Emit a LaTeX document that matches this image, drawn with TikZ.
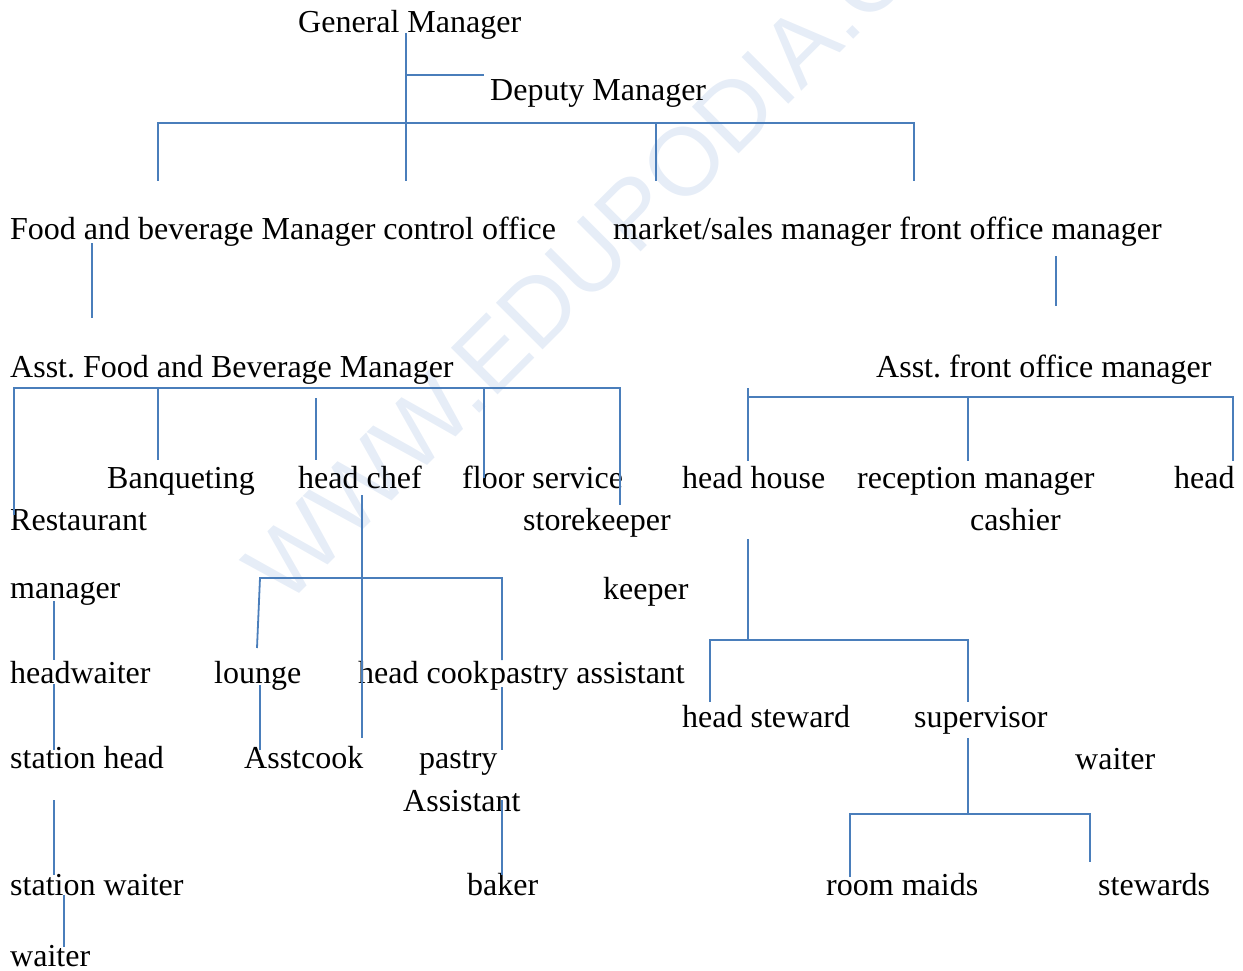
\documentclass[tikz,border=0pt]{standalone}
\usepackage{fontspec}
\setmainfont{Liberation Serif}
\newfontfamily\wmfont{Liberation Sans}
\definecolor{orgblue}{HTML}{4A7EBB}
\definecolor{wmark}{HTML}{E6EDF7}
\begin{document}
\begin{tikzpicture}[x=1pt, y=-1pt,
        jobname/.style={anchor=base west, inner sep=0pt, font=\fontsize{32}{38}\selectfont\frenchspacing},
        link/.style={draw=orgblue, line width=1.8pt}]
        \useasboundingbox (0,0) rectangle (1243,971);
        % watermark behind everything
        \node[anchor=base west, inner sep=0pt, rotate=45, text=wmark, font=\wmfont\fontsize{96}{96}\selectfont] (wm) at (285,608) {WWW.EDUPODIA.COM};

        %draw nodes by coordinates
        \node[jobname] (gm) at (298,33) {General Manager};
        \node[jobname] (dm) at (490,101) {Deputy Manager};
        \node[jobname] (fbm) at (10,240) {Food and beverage Manager control office};
        \node[jobname] (mkt) at (613,240) {market/sales manager front office manager};
        \node[jobname] (afbm) at (10,377) {Asst. Food and Beverage Manager};
        \node[jobname] (afom) at (876,377) {Asst. front office manager};
        \node[jobname] (banq) at (107,488) {Banqueting};
        \node[jobname] (chef) at (298,488) {head chef};
        \node[jobname] (floor) at (462,488) {floor service};
        \node[jobname] (hhouse) at (682,488) {head house};
        \node[jobname] (recep) at (857,488) {reception manager};
        \node[jobname] (headr) at (1174,488) {head};
        \node[jobname] (rest) at (10,530) {Restaurant};
        \node[jobname] (store) at (523,530) {storekeeper};
        \node[jobname] (cash) at (970,530) {cashier};
        \node[jobname] (mgr) at (10,598) {manager};
        \node[jobname] (keep) at (603,599) {keeper};
        \node[jobname] (hwaiter) at (10,683) {headwaiter};
        \node[jobname] (lounge) at (214,683) {lounge};
        \node[jobname] (hcook) at (358,683) {head cook};
        \node[jobname] (passt) at (490,683) {pastry assistant};
        \node[jobname] (hsteward) at (682,727) {head steward};
        \node[jobname] (superv) at (914,727) {supervisor};
        \node[jobname] (shead) at (10,768) {station head};
        \node[jobname] (acook) at (244,768) {Asstcook};
        \node[jobname] (pastry) at (419,768) {pastry};
        \node[jobname] (waiterr) at (1075,769) {waiter};
        \node[jobname] (asst) at (403,811) {Assistant};
        \node[jobname] (swaiter) at (10,895) {station waiter};
        \node[jobname] (baker) at (467,895) {baker};
        \node[jobname] (maids) at (826,895) {room maids};
        \node[jobname] (stewards) at (1098,895) {stewards};
        \node[jobname] (waiter) at (10,966) {waiter};

        % line ends
        \coordinate (gmA) at (406,33);
        \coordinate (gmB) at (406,181);
        \coordinate (dmA) at (406,75);
        \coordinate (dmB) at (484,75);
        \coordinate (topL) at (158,123);
        \coordinate (topR) at (914,123);
        \coordinate (top1) at (158,181);
        \coordinate (top3a) at (656,123);
        \coordinate (top3) at (656,181);
        \coordinate (top4) at (914,181);
        \coordinate (fbA) at (92,243);
        \coordinate (fbB) at (92,318);
        \coordinate (foA) at (1056,256);
        \coordinate (foB) at (1056,306);
        \coordinate (fbL) at (14,388);
        \coordinate (fbR) at (620,388);
        \coordinate (fb1) at (14,515);
        \coordinate (fb2a) at (158,388);
        \coordinate (fb2) at (158,460);
        \coordinate (fb3a) at (316,398);
        \coordinate (fb3) at (316,460);
        \coordinate (fb4a) at (484,388);
        \coordinate (fb4) at (484,478);
        \coordinate (fb5) at (620,505);
        \coordinate (chA) at (362,495);
        \coordinate (chB) at (362,738);
        \coordinate (chL) at (260,578);
        \coordinate (chR) at (502,578);
        \coordinate (ch1) at (257,648);
        \coordinate (ch3) at (502,660);
        \coordinate (loA) at (260,685);
        \coordinate (loB) at (260,750);
        \coordinate (paA) at (502,687);
        \coordinate (paB) at (502,750);
        \coordinate (psA) at (502,800);
        \coordinate (psB) at (502,875);
        \coordinate (rsA) at (54,601);
        \coordinate (rsB) at (54,660);
        \coordinate (hwA) at (54,684);
        \coordinate (hwB) at (54,750);
        \coordinate (shA) at (54,800);
        \coordinate (shB) at (54,875);
        \coordinate (swA) at (64,895);
        \coordinate (swB) at (64,947);
        \coordinate (foTop) at (748,388);
        \coordinate (foL) at (748,397);
        \coordinate (foR) at (1233,397);
        \coordinate (fo1) at (748,461);
        \coordinate (fo2a) at (968,397);
        \coordinate (fo2) at (968,461);
        \coordinate (fo3) at (1233,461);
        \coordinate (hhA) at (748,539);
        \coordinate (hhB) at (748,640);
        \coordinate (hhL) at (710,640);
        \coordinate (hhR) at (968,640);
        \coordinate (hh1) at (710,702);
        \coordinate (hh2) at (968,702);
        \coordinate (suA) at (968,738);
        \coordinate (suB) at (968,814);
        \coordinate (suL) at (850,814);
        \coordinate (suR) at (1090,814);
        \coordinate (su1) at (850,877);
        \coordinate (su2) at (1090,862);

        % Draw edges (links)
        \draw[link] (gmA) -- (gmB);
        \draw[link] (dmA) -- (dmB);
        \draw[link] (top1) -- (topL) -- (topR) -- (top4);
        \draw[link] (top3a) -- (top3);
        \draw[link] (fbA) -- (fbB);
        \draw[link] (foA) -- (foB);
        \draw[link] (fb1) -- (fbL) -- (fbR) -- (fb5);
        \draw[link] (fb2a) -- (fb2);
        \draw[link] (fb3a) -- (fb3);
        \draw[link] (fb4a) -- (fb4);
        \draw[link] (chA) -- (chB);
        \draw[link] (ch1) -- (chL) -- (chR) -- (ch3);
        \draw[link] (loA) -- (loB);
        \draw[link] (paA) -- (paB);
        \draw[link] (psA) -- (psB);
        \draw[link] (rsA) -- (rsB);
        \draw[link] (hwA) -- (hwB);
        \draw[link] (shA) -- (shB);
        \draw[link] (swA) -- (swB);
        \draw[link] (foTop) -- (fo1);
        \draw[link] (foL) -- (foR) -- (fo3);
        \draw[link] (fo2a) -- (fo2);
        \draw[link] (hhA) -- (hhB);
        \draw[link] (hh1) -- (hhL) -- (hhR) -- (hh2);
        \draw[link] (suA) -- (suB);
        \draw[link] (su1) -- (suL) -- (suR) -- (su2);
    \end{tikzpicture}
\end{document}
